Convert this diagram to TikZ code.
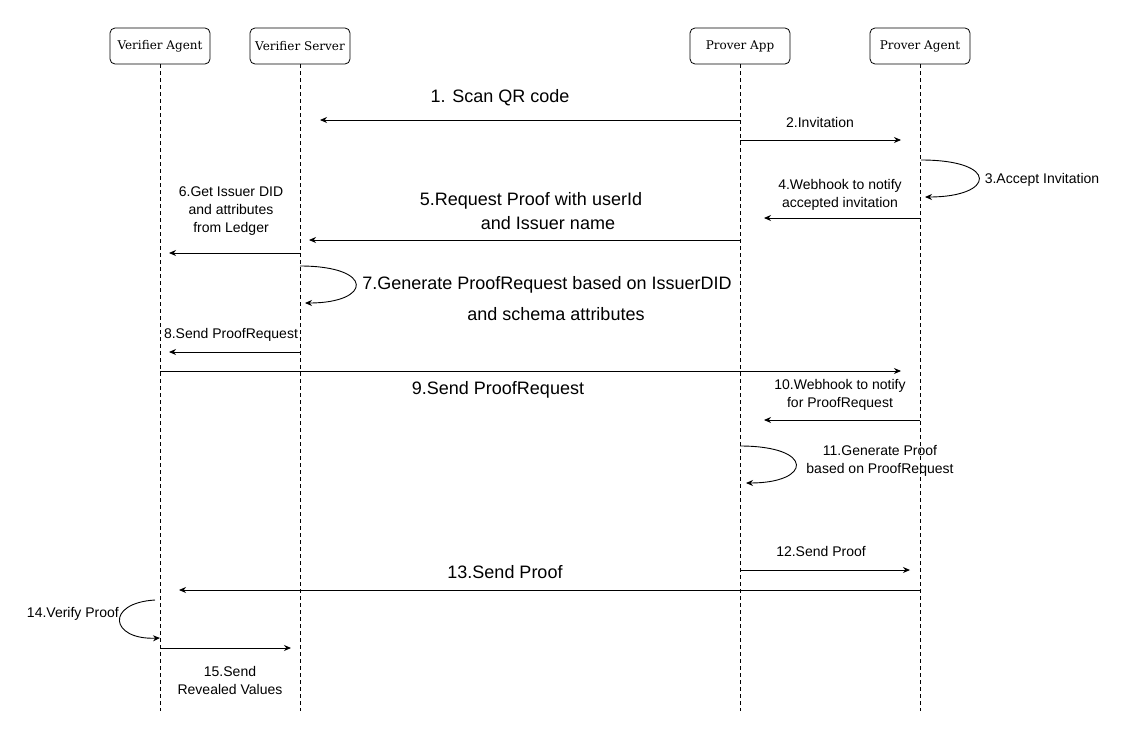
\documentclass[tikz,border=0pt]{standalone}
\usepackage{fontspec}
\setmainfont{Liberation Sans}
\newfontfamily\headfont{DejaVu Serif}
\usetikzlibrary{arrows.meta}
\begin{document}
\begin{tikzpicture}[x=1pt,y=-1pt,
  actor/.style={draw,rounded corners=5pt,minimum width=100pt,minimum height=36pt,inner sep=0pt,font=\headfont\fontsize{12}{14}\selectfont,line width=0.8pt},
  life/.style={dashed,line width=0.7pt,dash pattern=on 4pt off 3pt},
  msg/.style={-{Stealth[length=7pt,width=6pt]},line width=0.9pt},
  small/.style={font=\fontsize{14}{18}\selectfont,align=center,inner sep=0pt},
  big/.style={font=\fontsize{18}{22}\selectfont,align=center,inner sep=0pt}]
\useasboundingbox (0,0) rectangle (1141,731);
\fill[white] (0,0) rectangle (1141,731);
% actors
\node[actor] (va) at (160,46) {Verifier Agent};
\node[actor] (vs) at (300,46) {Verifier Server};
\node[actor] (pa) at (740,46) {Prover App};
\node[actor] (pg) at (920,46) {Prover Agent};
\coordinate (vaE) at (160,711);
\coordinate (vsE) at (300,711);
\coordinate (paE) at (740,711);
\coordinate (pgE) at (920,711);
\draw[life] (va.south) -- (vaE);
\draw[life] (vs.south) -- (vsE);
\draw[life] (pa.south) -- (paE);
\draw[life] (pg.south) -- (pgE);
% 1
\coordinate (m1a) at (740,120); \coordinate (m1b) at (320,120);
\draw[msg] (m1a) -- (m1b);
\node[big] (l1) at (500,98) {1. Scan QR code};
% 2
\coordinate (m2a) at (740,140); \coordinate (m2b) at (901,140);
\draw[msg] (m2a) -- (m2b);
\node[small] (l2) at (820,122) {2.Invitation};
% 3
\coordinate (m3a) at (921,160); \coordinate (m3b) at (925,197);
\draw[msg] (m3a) .. controls (1000,160) and (995,197) .. (m3b);
\node[small] (l3) at (1042,180) {3.Accept Invitation};
% 4
\coordinate (m4a) at (920,218); \coordinate (m4b) at (764,218);
\draw[msg] (m4a) -- (m4b);
\node[small] (l4) at (840,195) {4.Webhook to notify\\accepted invitation};
% 5
\coordinate (m5a) at (740,240); \coordinate (m5b) at (309,240);
\draw[msg] (m5a) -- (m5b);
\node[big] (l5a) at (531,201) {5.Request Proof with userId};
\node[big] (l5b) at (548,223) {and Issuer name};
% 6
\coordinate (m6a) at (300,253); \coordinate (m6b) at (169,253);
\draw[msg] (m6a) -- (m6b);
\node[small] (l6) at (231,211) {6.Get Issuer DID\\and attributes\\from Ledger};
% 7
\coordinate (m7a) at (300,266); \coordinate (m7b) at (305,303);
\draw[msg] (m7a) .. controls (375,266) and (372,303) .. (m7b);
\node[big] (l7a) at (547,285) {7.Generate ProofRequest based on IssuerDID};
\node[big] (l7b) at (556,314) {and schema attributes};
% 8
\coordinate (m8a) at (300,352); \coordinate (m8b) at (169,352);
\draw[msg] (m8a) -- (m8b);
\node[small] (l8) at (231,335) {8.Send ProofRequest};
% 9
\coordinate (m9a) at (160,371); \coordinate (m9b) at (901,371);
\draw[msg] (m9a) -- (m9b);
\node[big] (l9) at (498,390) {9.Send ProofRequest};
% 10
\coordinate (m10a) at (920,420); \coordinate (m10b) at (764,420);
\draw[msg] (m10a) -- (m10b);
\node[small] (l10) at (840,395) {10.Webhook to notify\\for ProofRequest};
% 11
\coordinate (m11a) at (740,446); \coordinate (m11b) at (746,483);
\draw[msg] (m11a) .. controls (815,446) and (812,483) .. (m11b);
\node[small] (l11) at (880,461) {11.Generate Proof\\based on ProofRequest};
% 12
\coordinate (m12a) at (740,570); \coordinate (m12b) at (910,570);
\draw[msg] (m12a) -- (m12b);
\node[small] (l12) at (821,551) {12.Send Proof};
% 13
\coordinate (m13a) at (920,590); \coordinate (m13b) at (179,590);
\draw[msg] (m13a) -- (m13b);
\node[big] (l13) at (505,572) {13.Send Proof};
% 14
\coordinate (m14a) at (155,600); \coordinate (m14b) at (160,638);
\draw[msg] (m14a) .. controls (105,603) and (110,640) .. (m14b);
\node[small,anchor=east] (l14) at (119,614) {14.Verify Proof};
% 15
\coordinate (m15a) at (160,648); \coordinate (m15b) at (291,648);
\draw[msg] (m15a) -- (m15b);
\node[small] (l15) at (230,680) {15.Send\\Revealed Values};
\end{tikzpicture}
\end{document}
